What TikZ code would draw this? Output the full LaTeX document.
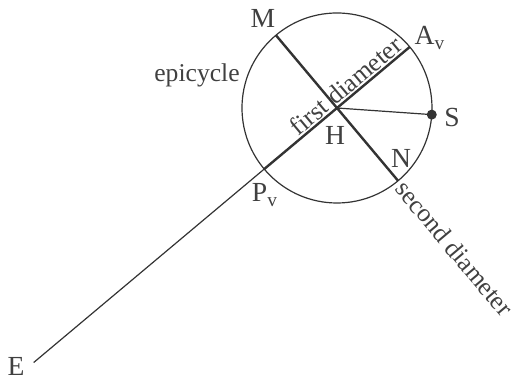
\documentclass[tikz,border=0pt]{standalone}
\usepackage{fontspec}
\setmainfont{Liberation Serif}
\usetikzlibrary{positioning, calc}

\begin{document}
\begin{tikzpicture}[x=0.5pt, y=0.5pt,
    every node/.style={text=black!75, font=\fontsize{12.8}{14}\selectfont},
    pointlabel/.style={font=\fontsize{13.8}{15}\selectfont},
    thinline/.style={draw=black!80, line width=0.6pt},
    diam/.style={draw=black!80, line width=1.2pt}]
  \useasboundingbox (-337,-276) rectangle (177,108);
  % epicycle centre and points on the circle
  \coordinate (H) at (0,0);
  \coordinate (A) at (40:95);
  \coordinate (P) at (220:95);
  \coordinate (M) at (130:95);
  \coordinate (N) at (-50:95);
  \coordinate (S) at (-4:95);
  \coordinate (E) at (220:396);
  \draw[thinline] (H) circle (95);
  \draw[thinline] (E) -- (P);
  \draw[thinline] (H) -- (S);
  \draw[diam] (P) -- (A);
  \draw[diam] (M) -- (N);
  \fill[black!80] (S) circle (5);
  % labels
  \node[pointlabel] (lM) at (-74,90) {M};
  \node[pointlabel] (lA) at (93,70) {A\textsubscript{v}};
  \node[pointlabel] (lS) at (115,-10) {S};
  \node[pointlabel] (lN) at (64,-50) {N};
  \node[pointlabel] (lP) at (-72,-87) {P\textsubscript{v}};
  \node[pointlabel] (lH) at (-2,-27) {H};
  \node[pointlabel] (lE) at (-321,-258) {E};
  \node (epi) at (-140,33) {epicycle};
  \node[rotate=40, anchor=south, inner sep=1pt] (first) at ($(H)!0.22!(A)$) {first diameter};
  \node[rotate=-50, anchor=west, inner sep=2pt] (second) at (N) {second diameter};
\end{tikzpicture}
\end{document}
